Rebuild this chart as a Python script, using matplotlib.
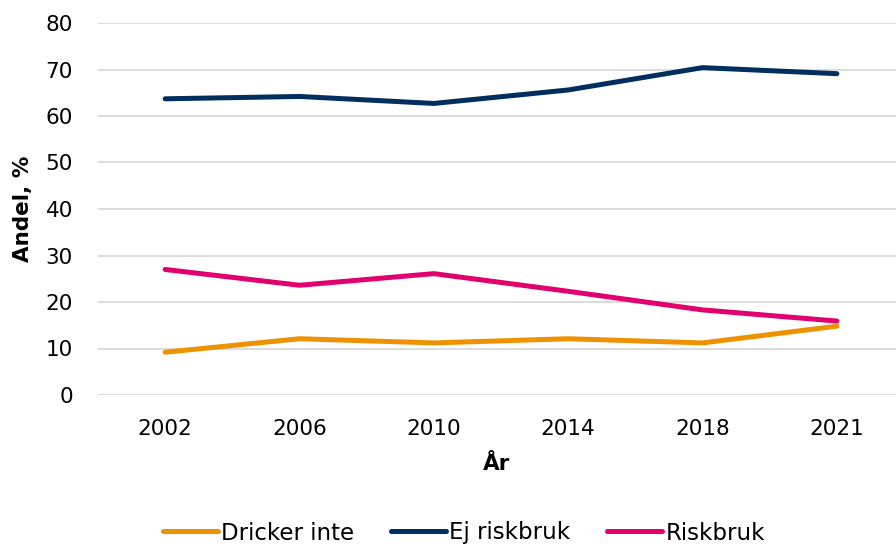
import matplotlib
matplotlib.use("Agg")
import matplotlib.pyplot as plt

years = ["2002", "2006", "2010", "2014", "2018", "2021"]
dricker_inte = [9.2, 12.1, 11.2, 12.1, 11.2, 14.8]
ej_riskbruk = [63.7, 64.2, 62.7, 65.6, 70.4, 69.1]
riskbruk = [27.0, 23.6, 26.1, 22.3, 18.3, 15.9]

series = [
    ("Dricker inte", dricker_inte, "#EE9200"),
    ("Ej riskbruk", ej_riskbruk, "#002F5F"),
    ("Riskbruk", riskbruk, "#E2006E"),
]

plt.rcParams["font.family"] = "DejaVu Sans"

fig = plt.figure(figsize=(8.96, 5.44), dpi=100)
# plot area: x 98..896 px, y 23..395 px
ax = fig.add_axes([98 / 896, 1 - 395 / 544, 1 - 98 / 896, 372 / 544])

x = range(len(years))
for name, vals, col in series:
    ax.plot(x, vals, color=col, lw=3.6, label=name, solid_capstyle="round")

ax.set_xlim(-0.5, 5.44)
ax.set_ylim(0, 80)
ax.set_yticks(range(0, 81, 10))
ax.set_xticks(list(x))
ax.set_xticklabels(years)
ax.tick_params(axis="both", length=0, labelsize=15.5, colors="#000000")
ax.tick_params(axis="y", pad=18)
ax.tick_params(axis="x", pad=17)
ax.grid(axis="y", color="#D9D9D9", lw=1.3)
ax.set_axisbelow(True)
for s in ax.spines.values():
    s.set_visible(False)

ax.set_xlabel("År", fontsize=15.5, fontweight="bold", labelpad=11)
ax.set_ylabel("Andel, %", fontsize=15.5, fontweight="bold", labelpad=9)

ax.legend(loc="center", bbox_to_anchor=(464 / 896, 1 - 533 / 544),
          bbox_transform=fig.transFigure, ncol=3, frameon=False,
          fontsize=16.5, handlelength=2.4, handletextpad=0.15, columnspacing=1.6)

fig.savefig("out.png", dpi=100)
